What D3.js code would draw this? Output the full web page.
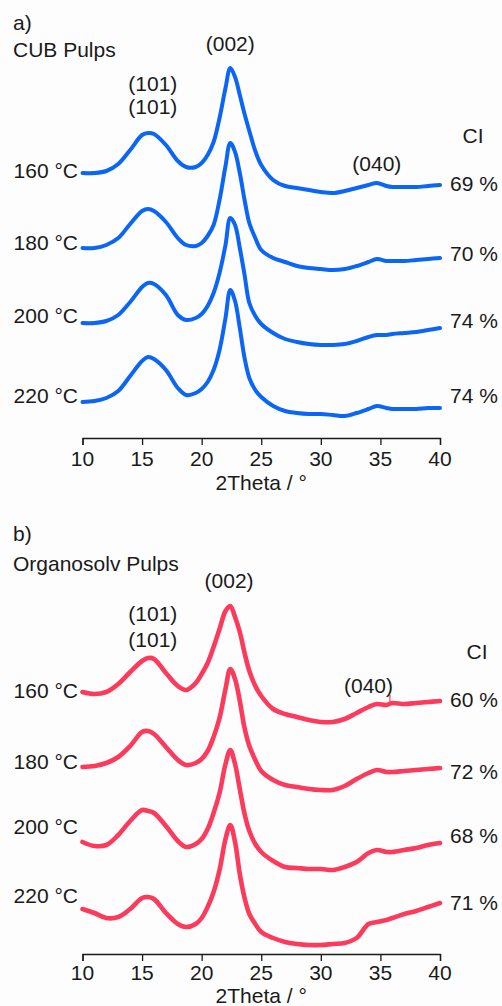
<!DOCTYPE html>
<html>
<head>
<meta charset="utf-8">
<script src="https://cdn.jsdelivr.net/npm/d3@7"></script>
<style>
  html, body { margin: 0; padding: 0; background: #fdfdfd; }
  svg { display: block; }
  text { font-family: "Liberation Sans", Arial, sans-serif; fill: #1a1a1a; }
</style>
</head>
<body>
<svg id="chart" width="502" height="1006"></svg>
<script>
// ---------------- DATA ----------------
const theta = [10, 11, 12, 13, 14, 15, 15.5, 16, 17, 18, 18.7, 19.5, 20, 20.5, 21, 21.5, 22, 22.4, 22.8, 23.2, 23.6, 24, 24.5, 25, 26, 27, 28, 29, 30, 31, 32, 33, 34, 34.7, 35.5, 36, 37, 38, 39, 40];
const xTicks = [10, 15, 20, 25, 30, 35, 40];
const temps = ["160 °C", "180 °C", "200 °C", "220 °C"];
const stackOffsets = [225, 150, 75, 0];

// (a) CUB pulps – intensity (a.u.) before stacking
const cub160 = [40, 40, 42, 49, 63, 78, 80, 79, 68, 52, 46, 46, 50, 58, 71, 95, 125, 145, 136, 118, 99, 82, 62, 48, 33, 27, 25, 23, 21, 20, 22, 25, 28, 30, 27, 26, 26, 26, 27, 28];
const cub180 = [40, 40, 43, 50, 64, 77, 79, 77, 66, 50, 43, 42, 45, 52, 63, 88, 122, 145, 136, 115, 88, 65, 50, 38, 30, 26, 22, 20, 19, 18, 19, 22, 26, 29, 27, 27, 27, 28, 29, 30];
const cub200 = [40, 40, 42, 48, 61, 76, 80, 79, 68, 48, 43, 45, 49, 57, 70, 90, 118, 145, 138, 115, 88, 60, 47, 39, 30, 24, 21, 19, 18, 18, 19, 22, 26, 28, 28, 29, 30, 31, 33, 35];
const cub220 = [36, 37, 40, 47, 62, 77, 81, 79, 68, 50, 43, 45, 49, 56, 68, 88, 120, 148, 137, 110, 80, 60, 48, 41, 32, 27, 25, 24, 24, 23, 22, 25, 29, 32, 30, 29, 29, 29, 30, 30];
const cubCI = ["69 %", "70 %", "74 %", "74 %"];

// (b) Organosolv pulps
const org160 = [37, 35, 37, 45, 57, 68, 71, 70, 56, 43, 39, 46, 55, 66, 82, 100, 118, 123, 112, 97, 76, 58, 43, 33, 20, 15, 12, 9, 7, 7, 10, 16, 22, 25, 24, 26, 25, 26, 27, 28];
const org180 = [37, 38, 41, 47, 58, 72, 73, 70, 57, 44, 39, 41, 45, 53, 67, 86, 115, 135, 125, 103, 76, 58, 44, 33, 24, 19, 17, 15, 14, 14, 18, 25, 31, 34, 32, 32, 33, 34, 35, 36];
const org200 = [37, 33, 34, 44, 58, 69, 68, 66, 53, 38, 32, 35, 40, 50, 66, 86, 115, 129, 115, 90, 65, 48, 35, 27, 18, 12, 11, 10, 10, 9, 12, 17, 26, 29, 27, 27, 29, 31, 34, 36];
const org220 = [45, 41, 36, 37, 45, 56, 57, 55, 41, 30, 27, 30, 36, 47, 62, 84, 115, 129, 112, 80, 56, 40, 30, 22, 16, 12, 10, 9, 9, 10, 11, 16, 30, 32, 34, 36, 40, 43, 47, 51];
const orgCI = ["60 %", "72 %", "68 %", "71 %"];

const hklLabels = ["(101)", "(101)", "(002)", "(040)"];

// ---------------- LAYOUT ----------------
const svg = d3.select("#chart");
const x = d3.scaleLinear().domain([10, 40]).range([82.5, 440]);
const FS = 21;

const panels = [
  {
    letter: "a)", title: "CUB Pulps", color: "#0b66f6", width: 4,
    series: [cub160, cub180, cub200, cub220], ci: cubCI,
    yRange: [438, 38],
    letterY: 30, titleY: 57,
    hkl: [[15.9, 91], [15.9, 114], [22.4, 51], [34.7, 171]],
    ciHead: [473, 143],
    tempY: [170, 242, 315, 395],
    ciY: [183, 253, 320, 395],
    tickLabelY: 466, xLabelY: 490
  },
  {
    letter: "b)", title: "Organosolv Pulps", color: "#fb3a5c", width: 4.6,
    series: [org160, org180, org200, org220], ci: orgCI,
    yRange: [954, 554],
    letterY: 541, titleY: 571,
    hkl: [[15.9, 621], [15.9, 647], [22.3, 588], [34.0, 693]],
    ciHead: [477, 659],
    tempY: [690, 761, 826, 895],
    ciY: [699, 771, 835, 902],
    tickLabelY: 980, xLabelY: 1003
  }
];

panels.forEach((p, pi) => {
  const g = svg.append("g");
  const y = d3.scaleLinear().domain([0, 400]).range(p.yRange);

  const line = d3.line()
    .x((d, i) => x(theta[i]))
    .curve(d3.curveCatmullRom.alpha(0.5));

  p.series.forEach((vals, k) => {
    g.append("path")
      .datum(vals)
      .attr("fill", "none")
      .attr("stroke", p.color)
      .attr("stroke-width", p.width)
      .attr("stroke-linejoin", "round")
      .attr("stroke-linecap", "round")
      .attr("d", line.y(d => y(d + stackOffsets[k])));
  });

  // spike near (040) in organosolv 160 °C
  if (pi === 1) {
    const v = org160[theta.indexOf(35.5)] + stackOffsets[0];
    g.append("line")
      .attr("x1", x(35.8)).attr("x2", x(35.8))
      .attr("y1", y(v)).attr("y2", y(v + 10))
      .attr("stroke", p.color).attr("stroke-width", 1.2);
  }

  // x axis
  const axisY = p.yRange[0];
  const axis = d3.axisBottom(x).tickValues(xTicks).tickSize(7).tickPadding(6).tickFormat(d3.format("d"));
  const ag = g.append("g").attr("transform", `translate(0,${axisY})`).call(axis);
  ag.select(".domain").attr("stroke", "#1a1a1a").attr("stroke-width", 1.3);
  ag.selectAll(".tick line").attr("stroke", "#1a1a1a").attr("stroke-width", 1.3);
  ag.selectAll(".tick text").remove();
  g.selectAll(".tlab").data(xTicks).enter().append("text")
    .attr("x", d => x(d)).attr("y", p.tickLabelY)
    .attr("text-anchor", "middle").attr("font-size", FS).text(d => d);
  g.append("text").attr("x", x(25)).attr("y", p.xLabelY)
    .attr("text-anchor", "middle").attr("font-size", FS).text("2Theta / °");

  // titles
  g.append("text").attr("x", 13).attr("y", p.letterY).attr("font-size", FS).text(p.letter);
  g.append("text").attr("x", 13).attr("y", p.titleY).attr("font-size", FS).text(p.title);

  // hkl labels
  p.hkl.forEach((h, i) => {
    g.append("text").attr("x", x(h[0])).attr("y", h[1])
      .attr("text-anchor", "middle").attr("font-size", FS).text(hklLabels[i]);
  });

  // CI header
  g.append("text").attr("x", p.ciHead[0]).attr("y", p.ciHead[1])
    .attr("text-anchor", "middle").attr("font-size", FS).text("CI");

  temps.forEach((t, k) => {
    g.append("text").attr("x", 78).attr("y", p.tempY[k]).attr("dy", "0.36em")
      .attr("text-anchor", "end").attr("font-size", FS).text(t);
    g.append("text").attr("x", 450).attr("y", p.ciY[k]).attr("dy", "0.36em")
      .attr("text-anchor", "start").attr("font-size", FS).text(p.ci[k]);
  });
});
</script>
</body>
</html>
